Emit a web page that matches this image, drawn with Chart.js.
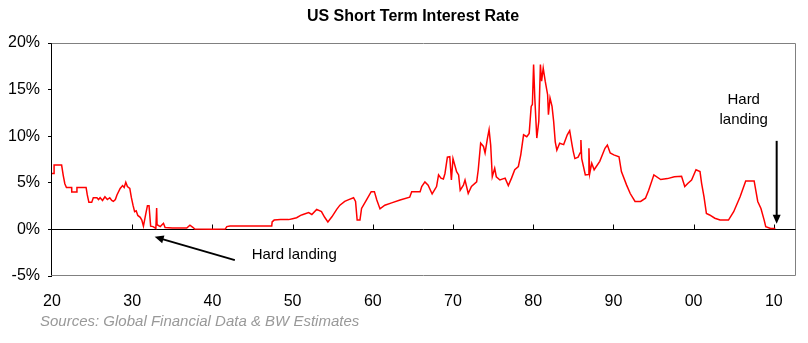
<!DOCTYPE html>
<html>
<head>
<meta charset="utf-8">
<script src="https://cdn.jsdelivr.net/npm/chart.js@4/dist/chart.umd.min.js"></script>
<style>
  html, body { margin: 0; padding: 0; background: #fff; }
  canvas { display: block; }
</style>
</head>
<body>
<canvas id="c" width="808" height="343"></canvas>
<script>
// ---- Data ----
const years = [
  1920.0, 1920.25, 1920.26, 1921.2, 1921.4, 1921.6, 1921.8, 1922.45, 1922.46, 1923.1,
  1923.11, 1924.25, 1924.4, 1924.6, 1924.95, 1925.15, 1925.6, 1925.8, 1926.0, 1926.3,
  1926.6, 1926.9, 1927.2, 1927.45, 1927.65, 1927.9, 1928.1, 1928.5, 1928.8, 1929.0,
  1929.2, 1929.4, 1929.7, 1929.9, 1930.1, 1930.3, 1930.5, 1930.7, 1931.0, 1931.2,
  1931.4, 1931.7, 1931.9, 1932.1, 1932.3, 1932.6, 1932.95, 1933.05, 1933.1, 1933.5,
  1933.9, 1934.1, 1935.0, 1936.0, 1936.8, 1937.2, 1937.6, 1937.8, 1940.0, 1941.6,
  1941.8, 1942.2, 1947.4, 1947.45, 1947.7, 1948.5, 1949.5, 1950.0, 1950.5, 1951.0,
  1951.3, 1952.0, 1952.4, 1953.0, 1953.6, 1954.0, 1954.4, 1954.9, 1955.5, 1955.9,
  1956.5, 1957.0, 1957.6, 1957.85, 1958.05, 1958.4, 1958.6, 1959.2, 1959.8, 1960.2,
  1960.5, 1960.9, 1961.5, 1962.35, 1963.4, 1964.6, 1964.85, 1965.9, 1966.1, 1966.5,
  1966.9, 1967.4, 1967.95, 1968.2, 1968.5, 1968.8, 1969.0, 1969.3, 1969.6, 1969.8,
  1970.0, 1970.45, 1970.7, 1970.9, 1971.3, 1971.5, 1971.9, 1972.3, 1972.95, 1973.15,
  1973.45, 1973.8, 1974.0, 1974.3, 1974.5, 1974.7, 1974.9, 1975.2, 1975.4, 1975.85,
  1976.5, 1976.9, 1977.3, 1977.7, 1978.15, 1978.45, 1978.8, 1979.2, 1979.5, 1979.75,
  1979.9, 1980.05, 1980.2, 1980.45, 1980.7, 1980.9, 1981.05, 1981.25, 1981.5, 1981.8,
  1981.9, 1982.1, 1982.35, 1982.55, 1982.75, 1982.95, 1983.3, 1983.8, 1984.25, 1984.55,
  1984.85, 1985.0, 1985.2, 1985.6, 1985.85, 1985.95, 1986.05, 1986.5, 1986.9, 1986.95,
  1987.05, 1987.3, 1987.6, 1988.3, 1988.95, 1989.25, 1989.6, 1990.05, 1990.7, 1991.0,
  1991.65, 1992.1, 1992.7, 1993.4, 1994.0, 1994.4, 1995.05, 1995.9, 1996.75, 1997.6,
  1998.5, 1998.9, 1999.3, 1999.75, 2000.3, 2000.8, 2001.0, 2001.3, 2001.6, 2002.0,
  2002.65, 2003.3, 2004.35, 2005.0, 2005.8, 2006.5, 2007.55, 2008.0, 2008.4, 2008.8,
  2009.0, 2009.6, 2010.2
];
const rates = [
  6.0, 6.0, 6.9, 6.9, 5.8, 4.9, 4.5, 4.5, 4.0, 4.0,
  4.5, 4.5, 3.7, 2.9, 2.9, 3.4, 3.4, 3.2, 3.4, 3.1,
  3.5, 3.2, 3.4, 3.1, 3.0, 3.2, 3.7, 4.4, 4.7, 4.5,
  5.05, 4.6, 4.4, 3.4, 2.6, 1.9, 2.0, 1.5, 1.3, 1.0,
  0.35, 1.7, 2.55, 2.55, 0.35, 0.3, 0.1, 2.3, 0.5, 0.3,
  0.65, 0.2, 0.15, 0.15, 0.15, 0.45, 0.2, 0.03, 0.02, 0.03,
  0.3, 0.375, 0.375, 0.8, 1.0, 1.05, 1.05, 1.15, 1.25, 1.5,
  1.6, 1.8, 1.6, 2.15, 1.9, 1.3, 0.8, 1.35, 2.15, 2.6,
  3.0, 3.2, 3.4, 3.0, 1.0, 1.0, 2.25, 3.15, 4.05, 4.05,
  3.15, 2.2, 2.6, 2.85, 3.15, 3.45, 4.05, 4.05, 4.6, 5.1,
  4.75, 3.8, 4.6, 5.85, 5.5, 5.4, 6.0, 7.75, 7.8, 5.3,
  7.6, 6.2, 5.85, 4.2, 4.75, 5.3, 3.85, 4.6, 5.1, 6.4,
  9.25, 8.9, 8.2, 9.8, 10.7, 9.05, 5.65, 6.55, 5.65, 5.3,
  5.5, 4.7, 5.5, 6.4, 6.75, 8.0, 10.15, 9.95, 10.3, 13.2,
  13.4, 17.7, 14.1, 9.8, 11.6, 17.7, 15.9, 17.3, 15.9, 14.45,
  12.3, 14.1, 13.2, 11.6, 9.4, 8.5, 9.25, 9.1, 10.15, 10.6,
  9.05, 8.35, 7.6, 7.75, 8.2, 9.6, 7.6, 5.85, 5.9, 8.7,
  6.0, 7.1, 6.4, 7.3, 8.7, 9.05, 8.2, 8.0, 7.8, 6.2,
  4.75, 3.85, 3.0, 3.0, 3.35, 4.2, 5.85, 5.35, 5.45, 5.65,
  5.7, 4.6, 4.95, 5.3, 6.4, 6.2, 4.95, 3.5, 1.7, 1.55,
  1.2, 1.0, 1.0, 1.9, 3.5, 5.2, 5.2, 3.0, 2.25, 1.0,
  0.3, 0.1, 0.1
];
const decadeTicks = [1920, 1930, 1940, 1950, 1960, 1970, 1980, 1990, 2000, 2010];
const xTickLabels = ['20', '30', '40', '50', '60', '70', '80', '90', '00', '10'];
const yTickValues = [-5, 0, 5, 10, 15, 20];

// ---- Annotations (in data units) ----
const leftArrow = { fromYear: 1942.8, fromRate: -3.3, toYear: 1932.8, toRate: -0.8 };
const leftLabel = { year: 1944.9, rate: -3.2, text: 'Hard landing' };
const rightArrow = { year: 2010.36, fromRate: 9.5, toRate: 0.6 };
const rightLabel = { year: 2006.25, rates: [13.47, 11.29], lines: ['Hard', 'landing'] };

const FONT = '"Liberation Sans", Arial, sans-serif';

function drawArrow(ctx, x1, y1, x2, y2) {
  const ang = Math.atan2(y2 - y1, x2 - x1);
  const hl = 9, hw = 4;
  ctx.save();
  ctx.strokeStyle = '#000';
  ctx.fillStyle = '#000';
  ctx.lineWidth = 2;
  ctx.beginPath();
  ctx.moveTo(x1, y1);
  ctx.lineTo(x2 - Math.cos(ang) * (hl - 1), y2 - Math.sin(ang) * (hl - 1));
  ctx.stroke();
  ctx.beginPath();
  ctx.moveTo(x2, y2);
  ctx.lineTo(x2 - Math.cos(ang) * hl - Math.sin(ang) * hw, y2 - Math.sin(ang) * hl + Math.cos(ang) * hw);
  ctx.lineTo(x2 - Math.cos(ang) * hl + Math.sin(ang) * hw, y2 - Math.sin(ang) * hl - Math.cos(ang) * hw);
  ctx.closePath();
  ctx.fill();
  ctx.restore();
}

const framePlugin = {
  id: 'frame',
  beforeDatasetsDraw(chart) {
    const { ctx, chartArea: a, scales: { x, y } } = chart;
    const L = Math.round(a.left) - 0.5, R = Math.round(a.right) - 0.5;
    const T = Math.round(a.top) + 0.5, B = Math.round(a.bottom) - 0.5;
    ctx.save();
    ctx.lineWidth = 1;
    ctx.strokeStyle = '#808080';
    ctx.beginPath();
    ctx.moveTo(L, T); ctx.lineTo(R, T); ctx.lineTo(R, B); ctx.lineTo(L, B);
    ctx.stroke();
    ctx.strokeStyle = '#000';
    ctx.beginPath();
    ctx.moveTo(L, T); ctx.lineTo(L, B);
    ctx.stroke();
    const z = Math.round(y.getPixelForValue(0)) + 0.5;
    ctx.beginPath();
    ctx.moveTo(L, z); ctx.lineTo(R, z);
    decadeTicks.slice(1).forEach(v => {
      const px = Math.round(x.getPixelForValue(v)) + 0.5;
      ctx.moveTo(px, z); ctx.lineTo(px, z - 5);
    });
    ctx.stroke();
    ctx.restore();
  },
  afterDatasetsDraw(chart) {
    const { ctx, scales: { x, y } } = chart;
    drawArrow(ctx, x.getPixelForValue(leftArrow.fromYear), y.getPixelForValue(leftArrow.fromRate),
                   x.getPixelForValue(leftArrow.toYear), y.getPixelForValue(leftArrow.toRate));
    drawArrow(ctx, x.getPixelForValue(rightArrow.year), y.getPixelForValue(rightArrow.fromRate),
                   x.getPixelForValue(rightArrow.year), y.getPixelForValue(rightArrow.toRate));
    ctx.save();
    ctx.fillStyle = '#000';
    ctx.font = '15px ' + FONT;
    ctx.textBaseline = 'alphabetic';
    ctx.textAlign = 'left';
    ctx.fillText(leftLabel.text, x.getPixelForValue(leftLabel.year), y.getPixelForValue(leftLabel.rate));
    ctx.textAlign = 'center';
    rightLabel.lines.forEach((t, i) => {
      ctx.fillText(t, x.getPixelForValue(rightLabel.year), y.getPixelForValue(rightLabel.rates[i]));
    });
    ctx.restore();
  },
  afterDraw(chart) {
    const { ctx } = chart;
    ctx.save();
    ctx.fillStyle = '#000';
    ctx.font = 'bold 16px ' + FONT;
    ctx.textAlign = 'center';
    ctx.textBaseline = 'alphabetic';
    ctx.fillText('US Short Term Interest Rate', 413, 21);
    ctx.fillStyle = '#999999';
    ctx.font = 'italic 15px ' + FONT;
    ctx.textAlign = 'left';
    ctx.fillText('Sources: Global Financial Data & BW Estimates', 40, 326);
    ctx.restore();
  }
};

const points = years.map((yr, i) => ({ x: yr, y: rates[i] }));

new Chart(document.getElementById('c'), {
  type: 'line',
  data: {
    datasets: [{
      data: points,
      borderColor: '#ff0000',
      borderWidth: 1.5,
      pointRadius: 0,
      tension: 0,
      fill: false
    }]
  },
  options: {
    responsive: false,
    animation: false,
    devicePixelRatio: 1,
    layout: { padding: { top: 43, right: 12, left: 0, bottom: 0 } },
    plugins: { legend: { display: false }, tooltip: { enabled: false }, title: { display: false } },
    scales: {
      x: {
        type: 'linear',
        min: 1920,
        max: 2012.77,
        afterBuildTicks: s => { s.ticks = decadeTicks.map(v => ({ value: v })); },
        afterFit: s => { s.height = 67; },
        grid: { display: false },
        border: { display: false },
        ticks: {
          autoSkip: false,
          maxRotation: 0,
          padding: 8,
          color: '#000',
          font: { family: FONT, size: 16 },
          callback: (v) => xTickLabels[decadeTicks.indexOf(v)]
        }
      },
      y: {
        min: -5,
        max: 20,
        afterBuildTicks: s => { s.ticks = yTickValues.map(v => ({ value: v })); },
        afterFit: s => { s.width = 52; },
        grid: { drawOnChartArea: false, drawTicks: true, tickLength: 4, color: '#000' },
        border: { display: false },
        ticks: {
          padding: 8,
          color: '#000',
          font: { family: FONT, size: 16 },
          callback: v => v + '%'
        }
      }
    }
  },
  plugins: [framePlugin]
});
</script>
</body>
</html>
